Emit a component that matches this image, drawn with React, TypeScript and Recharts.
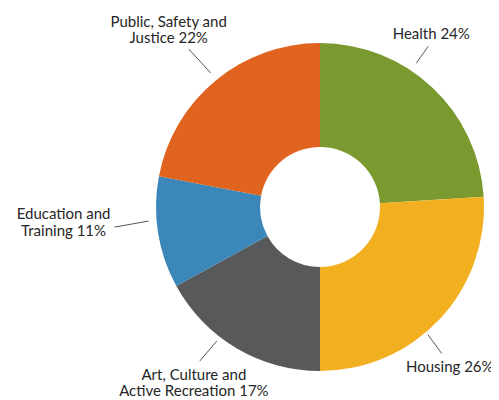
import React from 'react'
import { PieChart, Pie, Cell } from 'recharts'

const categories = [
  'Health',
  'Housing',
  'Art, Culture and\nActive Recreation',
  'Education and\nTraining',
  'Public, Safety and\nJustice',
]
const shares = [24, 26, 17, 11, 22]
const colors = ['#7a992e', '#f2b020', '#58595b', '#3b87b9', '#e0631f']

// leader line / label tweaks, in the same order as categories
// shift: degrees clockwise from the slice middle, gap: px past the rim
const labelLayout = [
  { shift: -9.4, gap: 9, lx: 12, ly: -17, tx: 3, ty: -7 },
  { shift: 6.6, gap: 3, lx: 14, ly: 19, tx: 8, ty: 18 },
  { shift: 7, gap: 5, lx: -17, ly: 20, tx: -6, ty: 19 },
  { shift: 4.3, gap: 8, lx: -34, ly: 6, tx: -51, ty: -8 },
  { shift: 0.4, gap: 9, lx: -22, ly: -24, tx: -20, ty: -22 },
]

const data = categories.map((name, i) => ({ name, value: shares[i] }))

const renderLabel = (props: any) => {
  const { cx, cy, midAngle, outerRadius, index, value, name } = props
  const lay = labelLayout[index]
  const clock = ((90 - midAngle + lay.shift) * Math.PI) / 180
  const r = outerRadius + lay.gap
  const x1 = cx + r * Math.sin(clock)
  const y1 = cy - r * Math.cos(clock)
  const x2 = x1 + lay.lx
  const y2 = y1 + lay.ly
  const lines = String(name).split('\n')
  lines[lines.length - 1] += ` ${value}%`
  return (
    <g>
      <line x1={x1} y1={y1} x2={x2} y2={y2} stroke="#555" strokeWidth={1} />
      <text
        x={x2 + lay.tx}
        y={y2 + lay.ty}
        textAnchor="middle"
        fill="#262626"
        fontSize={15}
        fontFamily="Lato, sans-serif"
      >
        {lines.map((l, k) => (
          <tspan key={k} x={x2 + lay.tx} dy={k === 0 ? 0 : 16.5}>
            {l}
          </tspan>
        ))}
      </text>
    </g>
  )
}

export default function App() {
  return (
    <PieChart width={491} height={392} margin={{ top: 0, right: 0, bottom: 0, left: 0 }}>
      <Pie
        data={data}
        dataKey="value"
        nameKey="name"
        cx={312}
        cy={199}
        innerRadius={60}
        outerRadius={164}
        startAngle={90}
        endAngle={-270}
        stroke="none"
        label={renderLabel}
        labelLine={false}
        isAnimationActive={false}
      >
        {data.map((d, i) => (
          <Cell key={d.name} fill={colors[i]} />
        ))}
      </Pie>
    </PieChart>
  )
}
